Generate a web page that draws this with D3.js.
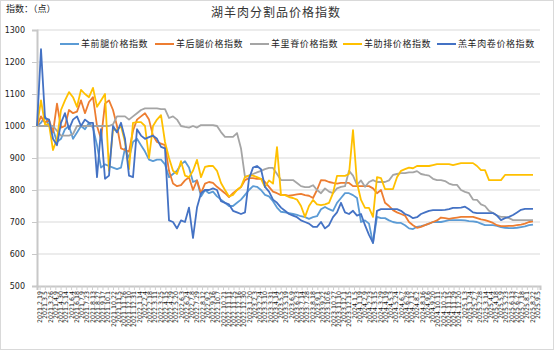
<!DOCTYPE html>
<html>
<head>
<meta charset="utf-8">
<script src="https://cdn.jsdelivr.net/npm/d3@7/dist/d3.min.js"></script>
<style>
  body { margin: 0; background: #fff; }
  text { font-family: "Noto Sans CJK SC", "DejaVu Sans", sans-serif; }
</style>
</head>
<body>
<svg id="chart" width="554" height="350"></svg>
<script>
// 湖羊肉分割品价格指数 — weekly index values (base = 1000)
const seriesNames = ["羊前腿价格指数", "羊后腿价格指数", "羊里脊价格指数", "羊肋排价格指数", "羔羊肉卷价格指数"];
const seriesColors = ["#5B9BD5", "#ED7D31", "#A5A5A5", "#FFC000", "#4472C4"];

const frontLeg = [1000,1010,1030,1000,990,950,960,990,1000,960,980,1000,990,1010,995,940,870,880,875,870,865,870,930,900,950,960,940,920,895,890,895,895,880,840,850,860,880,890,870,825,830,780,800,790,795,780,770,760,750,750,760,770,785,800,812,810,800,785,780,765,745,732,730,728,725,722,718,715,710,715,718,740,747,740,735,760,775,790,790,784,775,700,705,695,634,716,712,712,705,700,697,697,690,680,678,685,687,690,695,700,700,700,703,706,706,706,706,705,703,702,700,695,690,690,690,688,684,682,681,681,682,684,686,690,692];
const hindLeg = [1000,1030,1010,1020,980,1070,995,1000,1050,1040,1045,1080,1040,1075,1090,1000,960,1070,1080,1050,1000,930,925,920,985,1020,1030,1040,1020,970,950,945,940,860,820,812,815,830,840,800,830,790,820,825,822,810,800,790,778,790,800,809,831,837,837,835,835,825,810,795,790,784,785,782,784,786,788,784,782,775,800,831,830,825,822,820,822,822,822,812,812,812,812,812,805,790,800,760,750,737,730,725,720,700,690,682,685,690,695,700,705,714,712,710,712,714,716,716,716,716,712,708,706,702,697,690,687,687,688,688,690,692,695,700,702];
const loin = [1000,1000,1000,1000,1000,985,970,970,970,975,1000,1000,1000,1000,1000,1000,1000,1000,1000,1005,1030,1030,1030,1020,1030,1040,1050,1055,1055,1055,1055,1053,1053,1025,1030,1020,1000,997,995,1000,995,1003,1003,1003,1003,1000,981,966,966,966,978,930,840,845,850,855,860,865,869,869,850,831,831,831,831,822,812,809,809,815,800,790,805,795,790,805,810,812,860,845,816,830,810,825,831,825,825,825,830,847,850,853,853,855,855,859,850,847,845,835,831,831,828,820,816,816,800,794,790,770,769,755,750,735,728,720,716,716,712,706,706,706,706,706,706];
const ribs = [1000,1080,1005,1005,925,960,1050,1080,1106,1090,1060,1113,1100,1090,1119,1060,1080,1100,860,990,987,1000,950,865,1010,1012,1012,1000,900,1000,1020,1034,950,900,860,850,890,845,840,860,894,840,872,875,875,860,822,800,780,785,800,810,841,845,845,840,835,809,830,820,934,784,784,778,775,770,750,716,750,769,755,753,755,760,790,844,844,844,850,987,822,769,744,744,716,840,837,803,803,803,840,860,865,870,868,875,875,875,875,878,881,881,881,881,878,881,884,884,884,884,875,862,862,831,831,831,831,847,847,847,847,847,847,847,847];
const lambRoll = [1000,1240,1025,1020,960,940,1010,1040,990,1020,1030,1000,1020,1010,1010,840,990,835,845,1000,980,1010,960,845,840,990,970,960,965,970,960,935,930,705,700,680,705,700,745,650,745,790,800,800,805,800,765,760,755,735,730,725,730,835,870,875,865,810,795,770,760,745,735,725,720,715,705,700,695,685,685,700,680,690,715,730,760,730,725,735,720,725,690,660,635,735,740,740,740,740,740,735,725,720,712,715,725,730,735,737,737,737,738,740,744,744,745,748,740,730,728,728,728,728,728,720,706,712,716,722,730,738,741,741,741];

const yTicks = [500, 600, 700, 800, 900, 1000, 1100, 1200, 1300];
const dateLabels = [
  "2021.2.19","2021.3.5","2021.3.26","2021.4.9","2021.4.30","2021.5.14","2021.6.4","2021.6.18","2021.7.9","2021.7.23",
  "2021.8.13","2021.8.27","2021.9.17","2021.10.1","2021.10.22","2021.11.5","2021.11.26","2021.12.10","2021.12.31",
  "2022.1.14","2022.2.4","2022.2.18","2022.3.11","2022.3.25","2022.4.15","2022.4.29","2022.5.20","2022.6.3","2022.6.24",
  "2022.7.8","2022.7.29","2022.8.12","2022.9.2","2022.9.16","2022.10.7","2022.10.21","2022.11.11","2022.11.25","2022.12.16","2022.12.30",
  "2023.1.20","2023.2.3","2023.2.24","2023.3.10","2023.3.31","2023.4.14","2023.5.5","2023.5.19","2023.6.9","2023.6.23",
  "2023.7.14","2023.7.28","2023.8.18","2023.9.1","2023.9.22","2023.10.6","2023.10.27","2023.11.10","2023.12.1","2023.12.15",
  "2024.1.5","2024.1.19","2024.2.9","2024.2.23","2024.3.15","2024.3.29","2024.4.19","2024.5.3","2024.5.24","2024.6.7",
  "2024.6.28","2024.7.12","2024.8.2","2024.8.16","2024.9.6","2024.9.20","2024.10.11","2024.10.25","2024.11.15","2024.11.29","2024.12.20",
  "2025.1.3","2025.1.24","2025.2.7","2025.2.28","2025.3.14","2025.4.4","2025.4.18","2025.5.9","2025.5.23","2025.6.13",
  "2025.6.27","2025.7.18","2025.8.1","2025.8.22","2025.9.5"
];

const allSeries = [frontLeg, hindLeg, loin, ribs, lambRoll];

const svg = d3.select("#chart");
const W = 554, H = 350;
const plot = { left: 37, right: 540, top: 30, bottom: 286 };

svg.append("rect").attr("x", 0.5).attr("y", 0.5).attr("width", W - 1).attr("height", H - 1)
  .attr("fill", "#fff").attr("stroke", "#d9d9d9");

const y = d3.scaleLinear().domain([500, 1300]).range([plot.bottom, plot.top]);
const x = d3.scaleLinear().domain([0, frontLeg.length - 1]).range([plot.left, 533]);
const xLab = d3.scalePoint().domain(dateLabels).range([plot.left, plot.right]).padding(0.5);

// horizontal gridlines
svg.append("g").selectAll("line").data(yTicks.filter(v => v > 500)).join("line")
  .attr("x1", plot.left).attr("x2", plot.right)
  .attr("y1", d => y(d)).attr("y2", d => y(d))
  .attr("stroke", "#d9d9d9").attr("stroke-width", 1);

// y axis
const yAxis = svg.append("g").attr("transform", `translate(${plot.left},0)`)
  .call(d3.axisLeft(y).tickValues(yTicks).tickFormat(d3.format("d")).tickSize(5).tickPadding(7));
yAxis.select(".domain").attr("stroke", "#c8c8c8").attr("stroke-width", 2);
yAxis.selectAll(".tick line").attr("stroke", "#c8c8c8");
yAxis.selectAll(".tick text").attr("font-size", 8).attr("fill", "#222")
  .style("font-family", "'DejaVu Sans', sans-serif");

// x axis
const xAxis = svg.append("g").attr("transform", `translate(0,${plot.bottom})`)
  .call(d3.axisBottom(xLab).tickSize(4).tickPadding(2));
xAxis.select(".domain").attr("stroke", "#c8c8c8").attr("stroke-width", 2);
xAxis.selectAll(".tick line").attr("stroke", "#d0d0d0");
xAxis.selectAll(".tick text")
  .attr("font-size", 6.3).attr("fill", "#111")
  .attr("text-anchor", "end")
  .attr("transform", "rotate(-90)")
  .attr("x", -5).attr("y", 0).attr("dy", "0.32em")
  .style("font-family", "'DejaVu Sans', sans-serif");

// series lines
const line = d3.line().x((d, i) => x(i)).y(d => y(d));
svg.append("g").selectAll("path").data(allSeries).join("path")
  .attr("d", d => line(d))
  .attr("fill", "none")
  .attr("stroke", (d, i) => seriesColors[i])
  .attr("stroke-width", 1.8)
  .attr("stroke-linejoin", "round");

// title and unit
svg.append("text").attr("x", 276).attr("y", 17).attr("text-anchor", "middle")
  .attr("font-size", 12).attr("letter-spacing", 1).attr("fill", "#333")
  .text("湖羊肉分割品价格指数");
svg.append("text").attr("x", 6).attr("y", 12)
  .attr("font-size", 9).attr("fill", "#222")
  .text("指数：（点）");

// legend
const legendX = [60, 155, 250, 343, 437];
const legend = svg.append("g").selectAll("g").data(seriesNames).join("g")
  .attr("transform", (d, i) => `translate(${legendX[i]},44)`);
legend.append("rect").attr("x", 0).attr("y", -1.5).attr("width", 19).attr("height", 3)
  .attr("fill", "#fff");
legend.append("line").attr("x1", 0).attr("x2", 19).attr("y1", 0).attr("y2", 0)
  .attr("stroke", (d, i) => seriesColors[i]).attr("stroke-width", 2);
legend.append("text").attr("x", 21).attr("y", 0).attr("dy", "0.35em")
  .attr("font-size", 9).attr("letter-spacing", 0.6).attr("fill", "#222")
  .text(d => d);
</script>
</body>
</html>
